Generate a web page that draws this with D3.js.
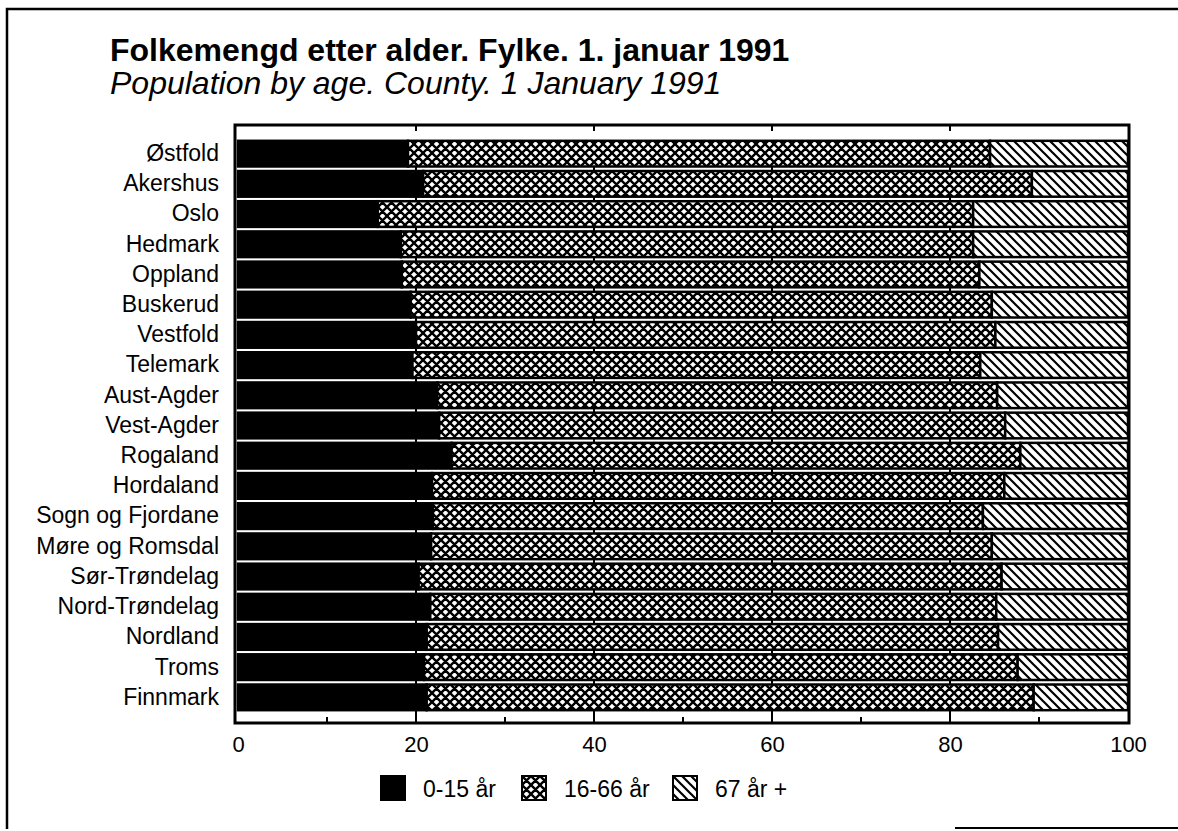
<!DOCTYPE html>
<html>
<head>
<meta charset="utf-8">
<script src="https://cdn.jsdelivr.net/npm/d3@7"></script>
<style>
  html, body { margin: 0; padding: 0; background: #fff; }
  svg text { font-family: "Liberation Sans", Arial, Helvetica, sans-serif; fill: #000; }
</style>
</head>
<body>
<svg id="chart" width="1178" height="831"></svg>
<script>
const counties = ["Østfold","Akershus","Oslo","Hedmark","Oppland","Buskerud","Vestfold","Telemark","Aust-Agder","Vest-Agder","Rogaland","Hordaland","Sogn og Fjordane","Møre og Romsdal","Sør-Trøndelag","Nord-Trøndelag","Nordland","Troms","Finnmark"];
const age0to15 = [19.1,20.8,15.7,18.3,18.4,19.4,20.0,19.6,22.4,22.6,24.0,21.8,21.9,21.7,20.3,21.6,21.2,20.9,21.2];
const age16to66 = [65.4,68.4,66.9,64.3,64.9,65.3,65.1,63.8,62.9,63.6,63.9,64.3,61.8,63.0,65.5,63.6,64.2,66.7,68.2];
const age67plus = [15.5,10.8,17.4,17.4,16.7,15.3,14.9,16.6,14.7,13.8,12.1,13.9,16.3,15.3,14.2,14.8,14.6,12.4,10.6];
const seriesKeys = ["a","b","c"];
const seriesLabels = ["0-15 år","16-66 år","67 år +"];
const xTicks = [0,20,40,60,80,100];
const titleText = "Folkemengd etter alder. Fylke. 1. januar 1991";
const subtitleText = "Population by age. County. 1 January 1991";

const svg = d3.select("#chart");
const defs = svg.append("defs");

// patterns
const pc = defs.append("pattern").attr("id","cross").attr("patternUnits","userSpaceOnUse")
  .attr("width",9).attr("height",9);
pc.append("rect").attr("width",9).attr("height",9).attr("fill","#fff");
pc.append("path").attr("d","M0,0L9,9M9,0L0,9M-1,8L1,10M8,-1L10,1M-1,1L1,-1M8,10L10,8")
  .attr("stroke","#000").attr("stroke-width",2.4);
const pd = defs.append("pattern").attr("id","diag").attr("patternUnits","userSpaceOnUse")
  .attr("width",9).attr("height",9);
pd.append("rect").attr("width",9).attr("height",9).attr("fill","#fff");
pd.append("path").attr("d","M0,0L9,9M-1,8L1,10M8,-1L10,1")
  .attr("stroke","#000").attr("stroke-width",2.2);
const fills = ["#000","url(#cross)","url(#diag)"];

// outer frame (scanned page border: left, top, partial bottom)
svg.append("path").attr("d","M7,829V9H1178").attr("fill","none").attr("stroke","#000").attr("stroke-width",2.5);
svg.append("path").attr("d","M955,828H1178").attr("fill","none").attr("stroke","#000").attr("stroke-width",2);

// titles
svg.append("text").attr("x",110).attr("y",61).attr("font-size",32).attr("font-weight","bold").text(titleText);
svg.append("text").attr("x",110).attr("y",94).attr("font-size",32).attr("font-style","italic").text(subtitleText);

const frame = {left:235, right:1129, top:125, bottom:723};
const x = d3.scaleLinear().domain([0,100]).range([238,1128]);
const y = d3.scaleBand().domain(counties).range([139,712]).paddingInner(0.15).paddingOuter(0.06);

const rows = counties.map((c,i)=>({county:c, a:age0to15[i], b:age16to66[i], c:age67plus[i]}));
const stack = d3.stack().keys(seriesKeys)(rows);

// gridlines behind bars (visible only in gaps)
svg.append("g").selectAll("line").data([20,40,60,80]).join("line")
  .attr("x1",d=>x(d)).attr("x2",d=>x(d))
  .attr("y1",y(counties[0])).attr("y2",frame.bottom)
  .attr("stroke","#000").attr("stroke-width",2);

// bars
svg.append("g").selectAll("g").data(stack).join("g")
  .attr("fill",(d,i)=>fills[i])
  .selectAll("rect").data(d=>d).join("rect")
  .attr("x",d=>x(d[0])).attr("width",d=>x(d[1])-x(d[0]))
  .attr("y",d=>y(d.data.county)).attr("height",y.bandwidth())
  .attr("stroke","#000").attr("stroke-width",2.5);

// frame
svg.append("rect").attr("x",frame.left).attr("y",frame.top)
  .attr("width",frame.right-frame.left).attr("height",frame.bottom-frame.top)
  .attr("fill","none").attr("stroke","#000").attr("stroke-width",3);

// ticks
const minor = [10,30,50,70,90];
svg.append("g").selectAll("line").data(minor).join("line")
  .attr("x1",d=>x(d)).attr("x2",d=>x(d)).attr("y1",frame.bottom).attr("y2",frame.bottom-6)
  .attr("stroke","#000").attr("stroke-width",2);
svg.append("g").selectAll("line").data([20,40,60,80]).join("line")
  .attr("x1",d=>x(d)).attr("x2",d=>x(d)).attr("y1",frame.top).attr("y2",frame.top+6)
  .attr("stroke","#000").attr("stroke-width",2);

// x axis labels
const xAxis = d3.axisBottom(x).tickValues(xTicks).tickSize(0).tickPadding(0);
const gx = svg.append("g").attr("transform",`translate(0,${frame.bottom+13})`).call(xAxis);
gx.select(".domain").remove();
gx.selectAll("text").attr("font-size",22).attr("dy","0.71em").attr("y",0)
  .style("font-family","'Liberation Sans', Arial, sans-serif").attr("fill","#000");

// y labels
const yAxis = d3.axisLeft(y).tickSize(0).tickPadding(0);
const gy = svg.append("g").attr("transform",`translate(219,0)`).call(yAxis);
gy.select(".domain").remove();
gy.selectAll("text").attr("font-size",23).attr("fill","#000")
  .style("font-family","'Liberation Sans', Arial, sans-serif");

// legend
const legendX = [381,522,673];
const lg = svg.append("g").selectAll("g").data(seriesLabels).join("g")
  .attr("transform",(d,i)=>`translate(${legendX[i]},776)`);
lg.append("rect").attr("width",24).attr("height",24).attr("fill",(d,i)=>fills[i])
  .attr("stroke","#000").attr("stroke-width",2);
lg.append("text").attr("x",42).attr("y",21).attr("font-size",23).text(d=>d);
</script>
</body>
</html>
